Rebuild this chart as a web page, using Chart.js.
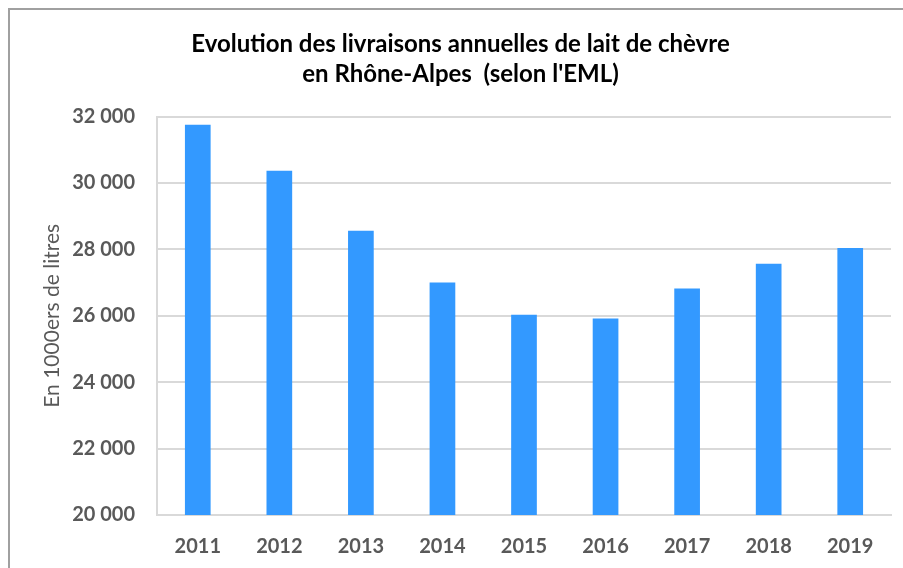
<!DOCTYPE html>
<html>
<head>
<meta charset="utf-8">
<script src="https://cdn.jsdelivr.net/npm/chart.js@4"></script>
<style>
html,body{margin:0;padding:0;background:#fff;width:903px;height:568px;overflow:hidden;}
#wrap{position:absolute;left:0;top:0;width:903px;height:568px;}
#frame{position:absolute;left:8px;top:8px;width:2000px;height:2000px;border-left:2px solid #a0a0a0;border-top:2px solid #a0a0a0;pointer-events:none;}
</style>
</head>
<body>
<div id="wrap"><canvas id="c" width="903" height="568"></canvas></div>
<div id="frame"></div>
<script>
const categories = ['2011','2012','2013','2014','2015','2016','2017','2018','2019'];
const livraisons = [31750, 30370, 28560, 27000, 26030, 25920, 26820, 27570, 28040];
const titleLines = ['Evolution des livraisons annuelles de lait de chèvre', 'en Rhône-Alpes  (selon l\'EML)'];
const yTitle = 'En 1000ers de litres';
const yMin = 20000, yMax = 32000, yStep = 2000;

function fmt(v){ return String(v).replace(/\B(?=(\d{3})+(?!\d))/g, ' '); }

new Chart(document.getElementById('c'), {
  type: 'bar',
  data: {
    labels: categories,
    datasets: [{
      data: livraisons,
      backgroundColor: '#3399ff',
      borderWidth: 0,
      barPercentage: 0.315,
      categoryPercentage: 1
    }]
  },
  options: {
    responsive: false,
    animation: false,
    layout: { padding: { left: 30, right: 12, top: 0, bottom: 0 } },
    plugins: {
      legend: { display: false },
      tooltip: { enabled: false },
      title: {
        display: true,
        text: titleLines,
        color: '#000',
        font: { family: 'Lato', size: 24, weight: 'bold', lineHeight: 1.22 },
        padding: { top: 30, bottom: 28 }
      }
    },
    scales: {
      x: {
        grid: { display: false, drawTicks: false },
        border: { display: true, color: '#d9d9d9', width: 2 },
        ticks: { color: '#595959', font: { family: 'Lato', size: 20, weight: 'bold' }, padding: 20 },
        afterFit: s => { s.height = 53; }
      },
      y: {
        min: yMin, max: yMax,
        grid: { color: '#d9d9d9', lineWidth: 2, drawTicks: false },
        border: { display: true, color: '#d9d9d9', width: 2 },
        ticks: { stepSize: yStep, color: '#595959', font: { family: 'Lato', size: 20, weight: 'bold' }, padding: 22, callback: v => fmt(v) },
        title: { display: true, text: yTitle, color: '#595959', font: { family: 'Lato', size: 21 }, padding: { top: 10, bottom: 0 } },
        afterFit: s => { s.width = 127; }
      }
    }
  }
});
</script>
</body>
</html>
